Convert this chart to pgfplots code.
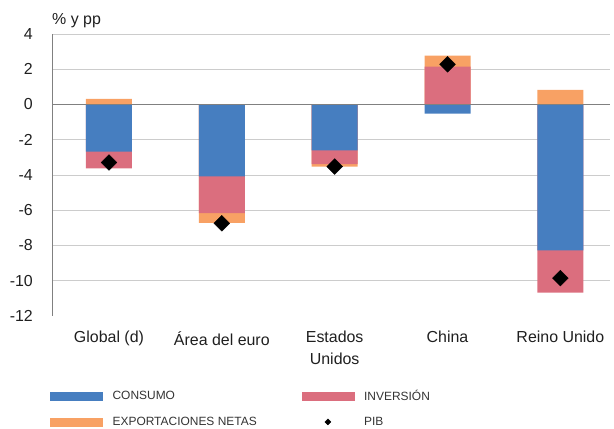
\documentclass[border=0pt]{standalone}
\usepackage{fontspec}
\setmainfont{Liberation Sans}
\usepackage{pgfplots}
\pgfplotsset{compat=1.18}
\definecolor{consumo}{RGB}{70,126,192}
\definecolor{inversion}{RGB}{219,110,126}
\definecolor{exports}{RGB}{248,161,100}
\begin{document}
\begin{tikzpicture}
% background axis: grid lines drawn as thin filled strips
\begin{axis}[
  scale only axis, width=558bp, height=282bp,
  xmin=-0.505, xmax=4.44, ymin=-12, ymax=4,
  hide axis, clip=false,
]
\addplot[fill=black!20, draw=none] coordinates {(-0.505,-10.025) (4.44,-10.025) (4.44,-9.975) (-0.505,-9.975)} -- cycle;
\addplot[fill=black!20, draw=none] coordinates {(-0.505,-8.025) (4.44,-8.025) (4.44,-7.975) (-0.505,-7.975)} -- cycle;
\addplot[fill=black!20, draw=none] coordinates {(-0.505,-6.025) (4.44,-6.025) (4.44,-5.975) (-0.505,-5.975)} -- cycle;
\addplot[fill=black!20, draw=none] coordinates {(-0.505,-4.025) (4.44,-4.025) (4.44,-3.975) (-0.505,-3.975)} -- cycle;
\addplot[fill=black!20, draw=none] coordinates {(-0.505,-2.025) (4.44,-2.025) (4.44,-1.975) (-0.505,-1.975)} -- cycle;
\addplot[fill=black!20, draw=none] coordinates {(-0.505,1.975) (4.44,1.975) (4.44,2.025) (-0.505,2.025)} -- cycle;
\addplot[fill=black!20, draw=none] coordinates {(-0.505,3.975) (4.44,3.975) (4.44,4.025) (-0.505,4.025)} -- cycle;
\end{axis}
% main axis: bars and PIB
\begin{axis}[
  name=ax,
  scale only axis, width=558bp, height=282bp,
  xmin=-0.505, xmax=4.44, ymin=-12, ymax=4,
  ytick={-12,-10,-8,-6,-4,-2,0,2,4},
  yticklabels={-12,-10,-8,-6,-4,-2,0,2,4},
  xtick={0,1,2,3,4},
  xticklabels={Global (d),Área del euro,{Estados\\Unidos},China,Reino Unido},
  tick style={draw=none},
  axis lines*=left,
  x axis line style={draw=none},
  y axis line style={black!50, line width=0.8bp},
  tick label style={font=\fontsize{16}{22}\selectfont, text=black!88},
  yticklabel style={inner sep=0pt, xshift=-19bp},
  xticklabel style={inner sep=0pt, yshift=-15bp, align=center},
  legend columns=2,
  legend cell align=left,
  legend style={draw=none, fill=none, at={(0,0)}, anchor=north west,
    xshift=-2bp, yshift=-72bp, inner sep=0pt, row sep=11bp,
    font=\fontsize{12}{12}\selectfont, text=black!80,
    /tikz/every odd column/.append style={column sep=8bp},
    /tikz/every even column/.append style={column sep=43bp}},
]
% bars drawn as overlaid extents: exportaciones netas, inversion, consumo
\addplot[ybar, bar width=46bp, bar shift=0pt, fill=exports, draw=none, forget plot]
  coordinates {(0,0.32) (1,-6.72) (2,-3.53) (3,2.77) (4,0.83)};
\addplot[ybar, bar width=46bp, bar shift=0pt, fill=inversion, draw=none, forget plot]
  coordinates {(0,-3.62) (1,-6.17) (2,-3.38) (3,2.15) (4,-10.68)};
\addplot[ybar, bar width=46bp, bar shift=0pt, fill=consumo, draw=none, forget plot]
  coordinates {(0,-2.67) (1,-4.08) (2,-2.60) (3,-0.52) (4,-8.27)};
% PIB
\addplot[only marks, mark=square*, mark size=5.6bp, mark options={rotate=45, fill=black, draw=none}, forget plot]
  coordinates {(0,-3.29) (1,-6.74) (2,-3.52) (3,2.28) (4,-9.85)};
% legend
\addlegendimage{legend image code/.code={\fill[consumo] (0bp,-4bp) rectangle (52bp,4bp);}}
\addlegendentry{CONSUMO}
\addlegendimage{legend image code/.code={\fill[inversion] (0bp,-4bp) rectangle (52bp,4bp);}}
\addlegendentry{INVERSIÓN}
\addlegendimage{legend image code/.code={\fill[exports] (0bp,-4bp) rectangle (52bp,4bp);}}
\addlegendentry{EXPORTACIONES NETAS}
\addlegendimage{legend image code/.code={\fill[white] (0bp,-4bp) rectangle (52bp,4bp); \fill[black] (26bp,-3bp) -- (29bp,0bp) -- (26bp,3bp) -- (23bp,0bp) -- cycle;}}
\addlegendentry{PIB}
\end{axis}
% foreground axis: zero line over the bars, as a thin filled strip
\begin{axis}[
  scale only axis, width=558bp, height=282bp,
  xmin=-0.505, xmax=4.44, ymin=-12, ymax=4,
  hide axis, clip=false,
]
\addplot[fill=black!50, draw=none] coordinates {(-0.505,-0.045) (4.44,-0.045) (4.44,0.045) (-0.505,0.045)} -- cycle;
\end{axis}
\node[anchor=base west, font=\fontsize{16}{16}\selectfont, text=black!88, inner sep=0pt] at ([yshift=9bp]ax.north west) {\% y pp};
\path (-52bp,-110bp) rectangle (562bp,316bp);
\end{tikzpicture}
\end{document}
